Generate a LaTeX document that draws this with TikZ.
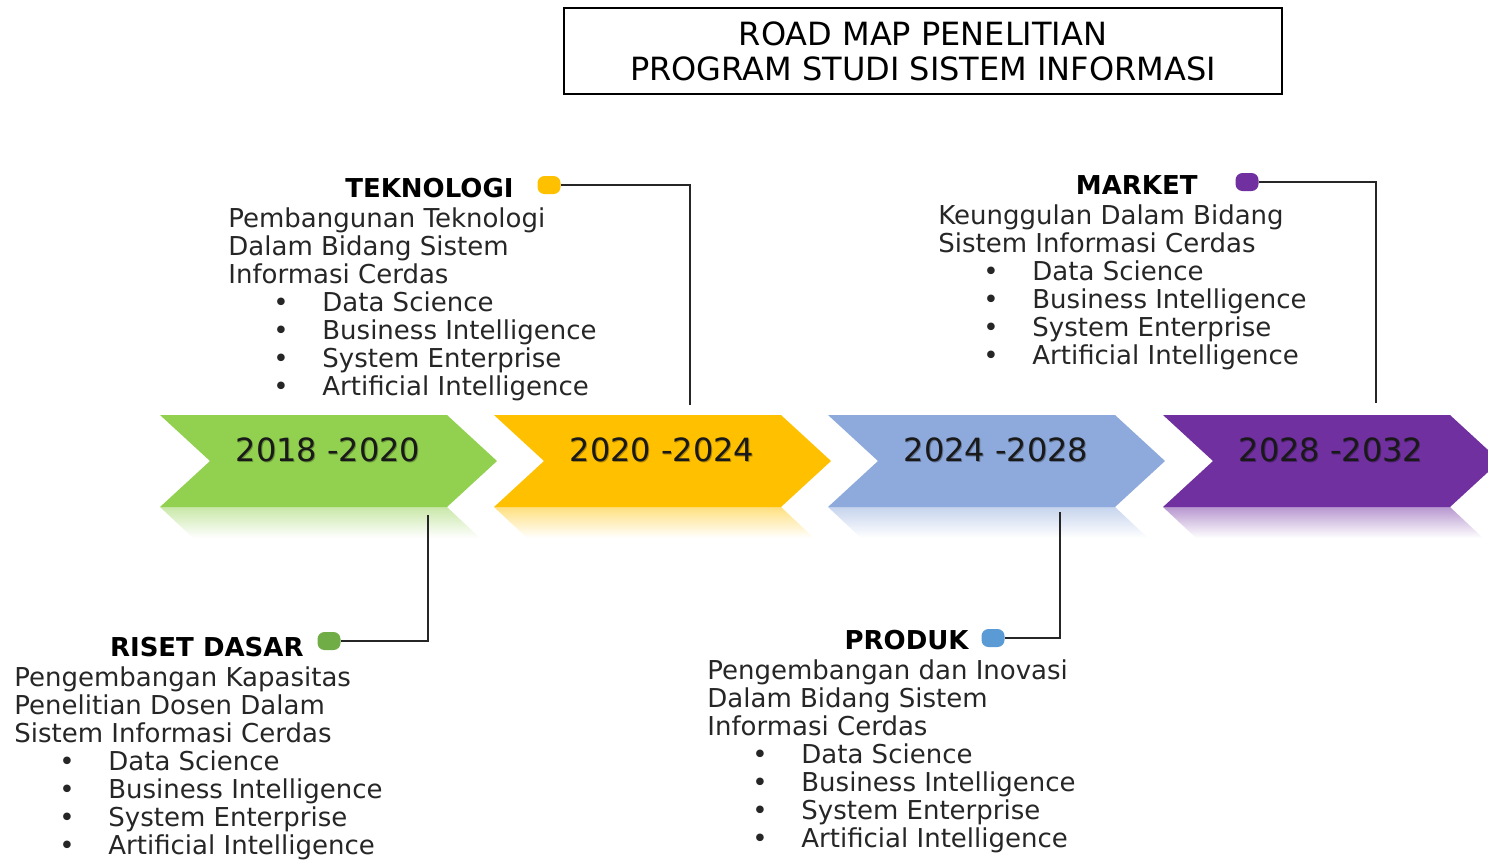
\documentclass[tikz,border=0pt]{standalone}
\usepackage{fontspec}
\setmainfont{DejaVu Sans}
\usepackage{tikz}

\definecolor{cgreen}{HTML}{92D050}
\definecolor{corange}{HTML}{FFC000}
\definecolor{cblue}{HTML}{8EA9DB}
\definecolor{cpurple}{HTML}{7030A0}
\definecolor{dgreen}{HTML}{70AD47}
\definecolor{dblue}{HTML}{5B9BD5}

% bullet line inside a block of text
\newcommand{\bul}[1]{\makebox[47pt][l]{\hspace*{22.5pt}\textbullet}#1}

\begin{document}
\begin{tikzpicture}[x=0.5pt,y=-0.5pt,
    heading/.style={font=\fontsize{13}{14}\selectfont\bfseries, inner sep=0pt, anchor=east},
    body/.style={font=\fontsize{13}{14}\selectfont, text=black!85, align=left, inner sep=0pt, anchor=north west},
    tipdot/.style={rectangle, rounded corners=3.5pt, minimum width=11.5pt, minimum height=9pt, inner sep=0pt},
    yearlbl/.style={font=\fontsize{16}{18}\selectfont, text=black!90},
    link/.style={line width=1.2pt, black!85}]

    \useasboundingbox (0,0) rectangle (1488,859);
    \clip (0,0) rectangle (1488,859);

    % Title box
    \node[draw, line width=0.6pt, minimum width=359pt, minimum height=43pt,
          align=center, font=\fontsize{16}{17.5}\selectfont] (judul) at (923,51)
          {ROAD MAP PENELITIAN\\PROGRAM STUDI SISTEM INFORMASI};

    % Chevrons with their reflections
    \foreach \i/\x/\col/\yrs in {
    1/160/cgreen/2018 -2020,
    2/494/corange/2020 -2024,
    3/828/cblue/2024 -2028,
    4/1163/cpurple/2028 -2032} {
        \shade[top color=\col!50, bottom color=white]
            (\x,507) -- ++(287,0) -- ++(33,31) -- ++(-287,0) -- cycle;
        \fill[\col] (\x,415) -- ++(287,0) -- ++(50,46) -- ++(-50,46)
            -- ++(-287,0) -- ++(50,-46) -- cycle;
        \node[yearlbl, text=black, text opacity=0.3] at (\x+169,451) {\yrs};
        \node[yearlbl] (yr\i) at (\x+168,450) {\yrs};
    }

    % TEKNOLOGI
    \node[heading] (tektitle) at (514,188) {TEKNOLOGI};
    \node[tipdot, fill=corange] (tekdot) at (549,185) {};
    \node[body] (tekbody) at (228,207) {Pembangunan Teknologi\\Dalam Bidang Sistem\\Informasi Cerdas\\
        \bul{Data Science}\\\bul{Business Intelligence}\\\bul{System Enterprise}\\\bul{Artificial Intelligence}};
    \coordinate (tekend) at (690,405);
    \draw[link] (tekdot.east) -| (tekend);

    % MARKET
    \node[heading] (mkttitle) at (1198,185) {MARKET};
    \node[tipdot, fill=cpurple] (mktdot) at (1247,182) {};
    \node[body] (mktbody) at (938,204) {Keunggulan Dalam Bidang\\Sistem Informasi Cerdas\\
        \bul{Data Science}\\\bul{Business Intelligence}\\\bul{System Enterprise}\\\bul{Artificial Intelligence}};
    \coordinate (mktend) at (1376,403);
    \draw[link] (mktdot.east) -| (mktend);

    % RISET DASAR
    \node[heading] (risettitle) at (304,647) {RISET DASAR};
    \node[tipdot, fill=dgreen] (risetdot) at (329,641) {};
    \node[body] (risetbody) at (14,666) {Pengembangan Kapasitas\\Penelitian Dosen Dalam\\Sistem Informasi Cerdas\\
        \bul{Data Science}\\\bul{Business Intelligence}\\\bul{System Enterprise}\\\bul{Artificial Intelligence}};
    \coordinate (risetend) at (428,515);
    \draw[link] (risetdot.east) -| (risetend);

    % PRODUK
    \node[heading] (produktitle) at (969,640) {PRODUK};
    \node[tipdot, fill=dblue] (produkdot) at (993,638) {};
    \node[body] (produkbody) at (707,659) {Pengembangan dan Inovasi\\Dalam Bidang Sistem\\Informasi Cerdas\\
        \bul{Data Science}\\\bul{Business Intelligence}\\\bul{System Enterprise}\\\bul{Artificial Intelligence}};
    \coordinate (produkend) at (1060,512);
    \draw[link] (produkdot.east) -| (produkend);

\end{tikzpicture}
\end{document}
